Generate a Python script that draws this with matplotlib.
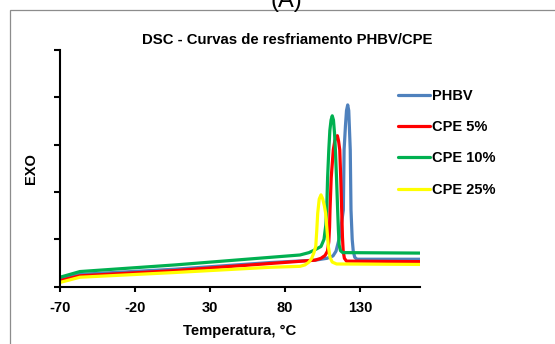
import matplotlib
matplotlib.use("Agg")
import matplotlib.pyplot as plt
from matplotlib.patches import Rectangle

plt.rcParams['font.family'] = ['Liberation Sans', 'DejaVu Sans']

# ---------------- data ----------------
title = "DSC - Curvas de resfriamento PHBV/CPE"
x_label = "Temperatura, °C"
y_label = "EXO"
x_ticks = [-70, -20, 30, 80, 130]
y_ticks = [0, 1, 2, 3, 4, 5]

phbv_T = [-70, -56.7, 6.7, 70, 100, 108, 112, 114, 116, 117.5, 118.9, 119.4, 120.3,
          121.0, 121.8, 122.5, 123.5, 124.0, 124.8, 125.5, 126.5, 128, 170]
phbv_v = [0.16, 0.26, 0.37, 0.51, 0.56, 0.60, 0.65, 0.75, 1.00, 1.30, 1.62, 2.89, 3.40,
          3.72, 3.84, 3.72, 2.89, 1.62, 1.00, 0.75, 0.62, 0.58, 0.58]

cpe5_T = [-70, -56.7, 6.7, 70, 100, 104, 106.7, 108.3, 109.2, 109.7, 110.0, 110.8, 112.2,
          113.2, 114.1, 114.9, 115.7, 116.5, 117.2, 117.8, 118.3, 118.8, 119.6, 121, 170]
cpe5_v = [0.13, 0.23, 0.34, 0.49, 0.56, 0.60, 0.66, 0.75, 0.95, 1.25, 1.62, 2.30, 2.89,
          3.08, 3.17, 3.19, 3.08, 2.89, 2.25, 1.62, 1.05, 0.75, 0.60, 0.54, 0.53]

cpe10_T = [-70, -56.7, 6.7, 70, 90, 96, 100, 104, 106, 107.2, 107.8, 108.4, 109.2, 109.9,
           110.7, 111.5, 112.3, 113.0, 113.6, 114.4, 115.1, 115.6, 116.1, 117, 118.5, 170]
cpe10_v = [0.20, 0.32, 0.46, 0.62, 0.67, 0.72, 0.78, 0.85, 1.00, 1.30, 1.62, 2.30, 2.89, 3.30,
           3.52, 3.61, 3.52, 3.25, 2.89, 2.25, 1.62, 1.20, 0.88, 0.76, 0.72, 0.71]

cpe25_T = [-70, -56.7, 6.7, 70, 90, 93.3, 96, 97.8, 99.3, 100.5, 101.2, 101.8, 102.8, 104,
           105.2, 106.3, 107.1, 108, 108.9, 110, 111.5, 114.4, 170]
cpe25_v = [0.09, 0.20, 0.30, 0.41, 0.43, 0.46, 0.52, 0.60, 0.72, 0.85, 1.20, 1.55, 1.85, 1.94,
           1.85, 1.70, 1.55, 1.20, 0.85, 0.62, 0.52, 0.48, 0.47]

series = [
    ("PHBV", phbv_T, phbv_v, "#4F81BD"),
    ("CPE 5%", cpe5_T, cpe5_v, "#FF0000"),
    ("CPE 10%", cpe10_T, cpe10_v, "#00B050"),
    ("CPE 25%", cpe25_T, cpe25_v, "#FFFF00"),
]

# ---------------- figure ----------------
W, H = 555, 344
fig = plt.figure(figsize=(W / 100, H / 100), dpi=100)
fig.patch.set_facecolor("white")

# outer chart-area border
fig.add_artist(Rectangle((10 / W, -0.2), 1.3, 1.2 - 10 / H,
                         transform=fig.transFigure, fill=False,
                         edgecolor="#8C8C8C", linewidth=0.9, clip_on=False))
fig.text(286 / W, 1 - 7.5 / H, "(A)", ha="center", va="baseline",
         fontsize=17, color="black")

ax = fig.add_axes([60 / W, 1 - 286.7 / H, 360 / W, (286.7 - 50) / H])

for name, T, v, c in series:
    ax.plot(T, v, color=c, linewidth=2.3, label=name, solid_capstyle="round",
            solid_joinstyle="round")

ax.set_xlim(-70, 170)
ax.set_ylim(0, 5)
ax.set_xticks(x_ticks)
ax.set_xticklabels([str(t) for t in x_ticks])
ax.set_yticks(y_ticks)
ax.set_yticklabels([])

for s in ["top", "right"]:
    ax.spines[s].set_visible(False)
for s in ["left", "bottom"]:
    ax.spines[s].set_linewidth(1.5)
    ax.spines[s].set_color("black")

ax.tick_params(axis="x", direction="out", length=3.5, width=1.5, pad=7,
               labelsize=10.5)
ax.tick_params(axis="y", direction="out", length=4.5, width=1.5)
for lab in ax.get_xticklabels():
    lab.set_fontweight("bold")

ax.set_xlabel(x_label, fontsize=10.75, fontweight="bold", labelpad=6)
ax.set_ylabel(y_label, fontsize=10.5, fontweight="bold", labelpad=8)

fig.text(287 / W, 1 - 40 / H, title, ha="center", va="center",
         fontsize=10.7, fontweight="bold")

leg = ax.legend(loc="upper left", bbox_to_anchor=(398 / W, 1 - 89 / H),
                bbox_transform=fig.transFigure, frameon=False,
                borderaxespad=0, borderpad=0, handlelength=2.2,
                handletextpad=0.12, labelspacing=1.18,
                prop={"size": 10.5, "weight": "bold"})
for line in leg.get_lines():
    line.set_linewidth(2.3)

fig.savefig("out.png", dpi=100)
